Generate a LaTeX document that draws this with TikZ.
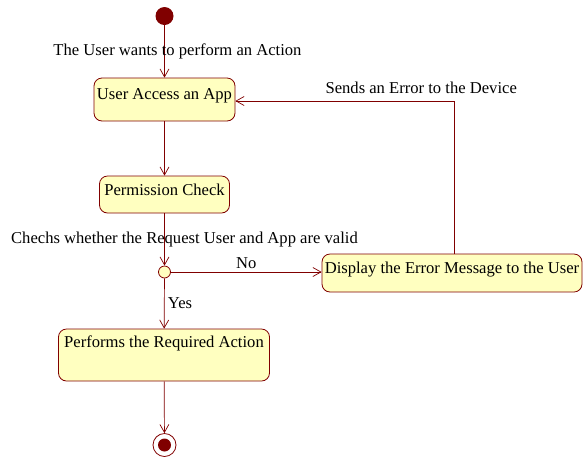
\documentclass[tikz,border=0pt]{standalone}
\usepackage{fontspec}
\setmainfont{Liberation Serif}
\usepackage{tikz}
\usetikzlibrary{arrows.meta, positioning}
\tikzset{>={Straight Barb[length=8pt,width=9pt]}}
\usepackage{xcolor}
\definecolor{mymaroon}{HTML}{800000}
\definecolor{myyellow}{HTML}{FFFFC0}

\begin{document}
\begin{tikzpicture}[x=1pt, y=-1pt, font=\fontsize{16.6}{19}\selectfont,
	act/.style={draw=mymaroon, fill=myyellow, rounded corners=8pt, inner sep=0pt, line width=0.8pt, text height=11pt},
	flow/.style={->, mymaroon, line width=0.7pt},
	lbl/.style={text=black}]
			\useasboundingbox (0,0) rectangle (583,459);
			% start, actions and end
			\node[circle, fill=mymaroon, minimum size=18pt, inner sep=0pt] (start) at (164.5,16) {};
			\node[act, minimum width=141pt, minimum height=43pt, text depth=12pt] (access) at (164.5,99.5) {User Access an App};
			\node[act, minimum width=130pt, minimum height=37pt, text depth=10pt] (check) at (164.5,194.5) {Permission Check};
			\node[circle, draw=mymaroon, fill=myyellow, line width=0.8pt, minimum size=12pt, inner sep=0pt] (valid) at (164.5,272) {};
			\node[act, minimum width=260pt, minimum height=38pt, text depth=11pt] (error) at (452,273) {Display the Error Message to the User};
			\node[act, minimum width=211pt, minimum height=52pt, text depth=27pt] (perform) at (164,355) {Performs the Required Action};
			\node[circle, draw=mymaroon, line width=0.8pt, minimum size=23pt, inner sep=0pt] (stop) at (164.5,445) {};
			\fill[mymaroon] (stop) circle (6.5pt);
			% transitions
			\coordinate (turn) at (454,101);
			\draw[flow] (start) -- (access) node[lbl, midway, xshift=13pt] {The User wants to perform an Action};
			\draw[flow] (access) -- (check);
			\draw[flow] (check) -- (valid) node[lbl, midway, xshift=20pt] {Chechs whether the Request User and App are valid};
			\draw[flow] (valid) -- (valid -| error.west) node[lbl, midway, above] {No};
			\draw[flow] (valid) -- (perform) node[lbl, midway, right] {Yes};
			\draw[flow] (perform) -- (stop);
			\draw[flow] (error.north -| turn) |- (access.east |- turn) node[lbl, pos=0.575, above=4pt] {Sends an Error to the Device};
		\end{tikzpicture}
\end{document}
